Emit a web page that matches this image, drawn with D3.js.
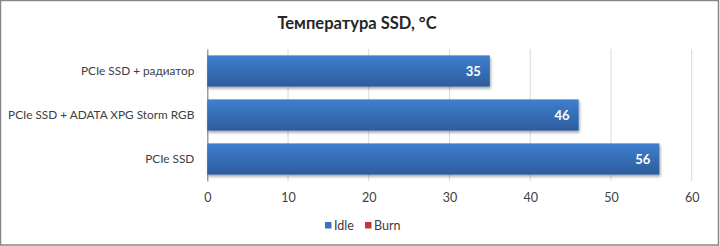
<!DOCTYPE html>
<html><head><meta charset="utf-8">
<script src="https://cdn.jsdelivr.net/npm/d3@7"></script>
<style>body{margin:0;background:#fff}svg{display:block}text{font-family:Lato,"Open Sans",sans-serif}</style>
</head><body>
<script>
const title = "Температура SSD, °C";
const categories = ["PCIe SSD + радиатор", "PCIe SSD + ADATA XPG Storm RGB", "PCIe SSD"];
const idleValues = [35, 46, 56];
const seriesNames = ["Idle", "Burn"];
const seriesColors = ["#3a72bd", "#c0383a"];
const xTicks = [0, 10, 20, 30, 40, 50, 60];

const W = 720, H = 246;
const svg = d3.select("body").append("svg").attr("width", W).attr("height", H);
const defs = svg.append("defs");
const grad = defs.append("linearGradient").attr("id","bg").attr("x1",0).attr("y1",0).attr("x2",0).attr("y2",1);
grad.append("stop").attr("offset","0%").attr("stop-color","#3f7fcf");
grad.append("stop").attr("offset","100%").attr("stop-color","#2c5d9c");
const f = defs.append("filter").attr("id","sh").attr("x","-10%").attr("y","-20%").attr("width","130%").attr("height","160%");
f.append("feDropShadow").attr("dx",1).attr("dy",2).attr("stdDeviation",1.5).attr("flood-color","#000").attr("flood-opacity",0.35);

svg.append("rect").attr("x",0.5).attr("y",0.5).attr("width",W-2).attr("height",H-1.5)
  .attr("fill","#fff").attr("stroke","#868686").attr("stroke-width",1.5);

svg.append("text").attr("x",357).attr("y",29).attr("text-anchor","middle")
  .attr("font-size",16.5).attr("font-weight","bold").attr("fill","#262626").text(title);

const x = d3.scaleLinear().domain([0,60]).range([207.3,691.7]);
const y = d3.scaleBand().domain(categories).range([49,181]).paddingInner(0.29).paddingOuter(0.145);

// gridlines
svg.append("g").selectAll("line").data(xTicks.slice(1)).join("line")
  .attr("x1",d=>x(d)).attr("x2",d=>x(d)).attr("y1",49).attr("y2",181)
  .attr("stroke","#d9d9d9").attr("stroke-width",1);

// axis
const xa = svg.append("g").attr("transform","translate(0,181)")
  .call(d3.axisBottom(x).tickValues(xTicks).tickSize(0).tickPadding(12));
xa.select(".domain").remove();
xa.selectAll("text").attr("font-size",12.5).attr("fill","#404040").style("font-family","Lato, sans-serif");

const ya = svg.append("g").attr("transform","translate(207.3,0)")
  .call(d3.axisLeft(y).tickSize(0).tickPadding(13));
ya.select(".domain").attr("stroke","#868686").attr("stroke-width",1.2);
ya.selectAll("text").attr("font-size",11.8).attr("fill","#404040").style("font-family","Lato, sans-serif");

// bars
const bars = svg.append("g");
bars.selectAll("rect").data(idleValues).join("rect")
  .attr("x",x(0)).attr("y",(d,i)=>y(categories[i]))
  .attr("width",d=>x(d)-x(0)).attr("height",y.bandwidth())
  .attr("fill","url(#bg)").attr("filter","url(#sh)");
bars.selectAll("text").data(idleValues).join("text")
  .attr("x",d=>x(d)-9).attr("y",(d,i)=>y(categories[i])+y.bandwidth()/2+4.5)
  .attr("text-anchor","end").attr("font-size",13).attr("font-weight","bold").attr("fill","#fff")
  .text(d=>d);

// legend
const lg = svg.append("g");
const lx = [325, 365];
seriesNames.forEach((n,i)=>{
  lg.append("rect").attr("x",lx[i]).attr("y",222).attr("width",6.5).attr("height",6.5).attr("fill",seriesColors[i]);
  lg.append("text").attr("x",lx[i]+9).attr("y",230).attr("font-size",12.5).attr("fill","#404040").text(n);
});
</script>
</body></html>
